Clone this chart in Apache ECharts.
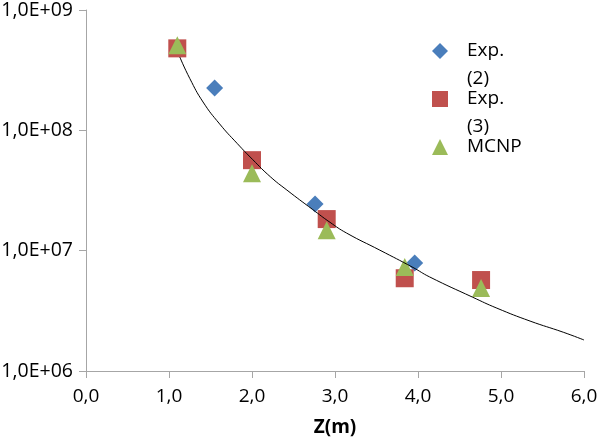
<!DOCTYPE html>
<html>
<head>
<meta charset="utf-8">
<script src="https://cdn.jsdelivr.net/npm/echarts@6/dist/echarts.min.js"></script>
<style>html,body{margin:0;padding:0;background:#fff;}#chart{width:600px;height:440px;}</style>
</head>
<body>
<div id="chart"></div>
<script>
// Data
const exp2Z = [1.55, 2.76, 3.96];
const exp2V = [2.25e8, 2.44e7, 7.9e6];
const exp3Z = [1.10, 2.00, 2.90, 3.84, 4.76];
const exp3V = [4.8e8, 5.65e7, 1.83e7, 5.9e6, 5.7e6];
const mcnpZ = [1.10, 2.00, 2.90, 3.84, 4.76];
const mcnpV = [5.1e8, 4.4e7, 1.48e7, 7.3e6, 4.9e6];
// Trend curve
const fitZ = [1.13, 1.25, 1.41, 1.61, 1.82, 2.01, 2.22, 2.42, 2.73, 2.94, 3.14, 3.54, 3.94, 4.14, 4.66, 4.95, 5.35, 5.75, 6.00];
const fitV = [4.07e8, 2.70e8, 1.72e8, 1.13e8, 7.80e7, 5.70e7, 4.12e7, 3.19e7, 2.20e7, 1.72e7, 1.40e7, 1.01e7, 7.25e6, 6.05e6, 4.10e6, 3.33e6, 2.60e6, 2.10e6, 1.81e6];
const xTickLabels = ['0,0', '1,0', '2,0', '3,0', '4,0', '5,0', '6,0'];
const yTickLabels = ['1,0E+06', '1,0E+07', '1,0E+08', '1,0E+09'];
const seriesNames = ['Exp. (2)', 'Exp. (3)', 'MCNP'];
const xTitle = 'Z(m)';

const zip = (a, b) => a.map((v, i) => [v, b[i]]);
const FONT = '"Open Sans", sans-serif';
const axisColor = '#a6a6a6';

const chart = echarts.init(document.getElementById('chart'), null, {renderer: 'canvas'});

function legendFor(name, top) {
  return {
    data: [name],
    left: 432,
    top: top,
    padding: 0,
    orient: 'vertical',
    itemWidth: 16,
    itemHeight: 16,
    selectedMode: false,
    formatter: function (n) {
      const parts = n.split(' ');
      return parts.length > 1 ? '\n' + parts.join('\n') : n;
    },
    textStyle: {fontFamily: FONT, fontSize: 19, color: '#000', lineHeight: 28, padding: [0, 0, 0, 14]}
  };
}

chart.setOption({
  animation: false,
  backgroundColor: '#fff',
  grid: {left: 86, right: 16, top: 10, bottom: 69, containLabel: false, outerBoundsMode: 'none'},
  legend: [legendFor(seriesNames[0], 9), legendFor(seriesNames[1], 57), legendFor(seriesNames[2], 133)],
  xAxis: {
    type: 'value', min: 0, max: 6, interval: 1,
    name: xTitle, nameLocation: 'middle', nameGap: 47,
    nameTextStyle: {fontFamily: FONT, fontSize: 19, fontWeight: 'bold', color: '#000'},
    axisLine: {show: true, lineStyle: {color: axisColor, width: 1}},
    axisTick: {show: true, length: 7, lineStyle: {color: axisColor}},
    splitLine: {show: false},
    axisLabel: {
      margin: 16, fontFamily: FONT, fontSize: 19, color: '#000',
      formatter: v => xTickLabels[Math.round(v)]
    }
  },
  yAxis: {
    type: 'log', logBase: 10, min: 1e6, max: 1e9,
    axisLine: {show: true, lineStyle: {color: axisColor, width: 1}},
    axisTick: {show: true, length: 7, lineStyle: {color: axisColor}},
    splitLine: {show: false},
    minorTick: {show: false},
    axisLabel: {
      margin: 13, fontFamily: FONT, fontSize: 19.5, color: '#000',
      formatter: v => yTickLabels[Math.round(Math.log10(v)) - 6]
    }
  },
  series: [
    {
      name: seriesNames[0], type: 'scatter', symbol: 'diamond', symbolSize: 17,
      itemStyle: {color: '#4a7ebb', opacity: 1}, data: zip(exp2Z, exp2V), z: 2
    },
    {
      name: seriesNames[1], type: 'scatter', symbol: 'rect', symbolSize: 18,
      itemStyle: {color: '#c0504d', opacity: 1}, data: zip(exp3Z, exp3V), z: 3
    },
    {
      name: seriesNames[2], type: 'scatter', symbol: 'triangle', symbolSize: 18,
      itemStyle: {color: '#9bbb59', opacity: 1}, data: zip(mcnpZ, mcnpV), z: 4
    },
    {
      name: 'fit', type: 'line', data: zip(fitZ, fitV), showSymbol: false, smooth: 0.5,
      lineStyle: {color: '#000', width: 1}, z: 5, silent: true
    }
  ]
});
</script>
</body>
</html>
